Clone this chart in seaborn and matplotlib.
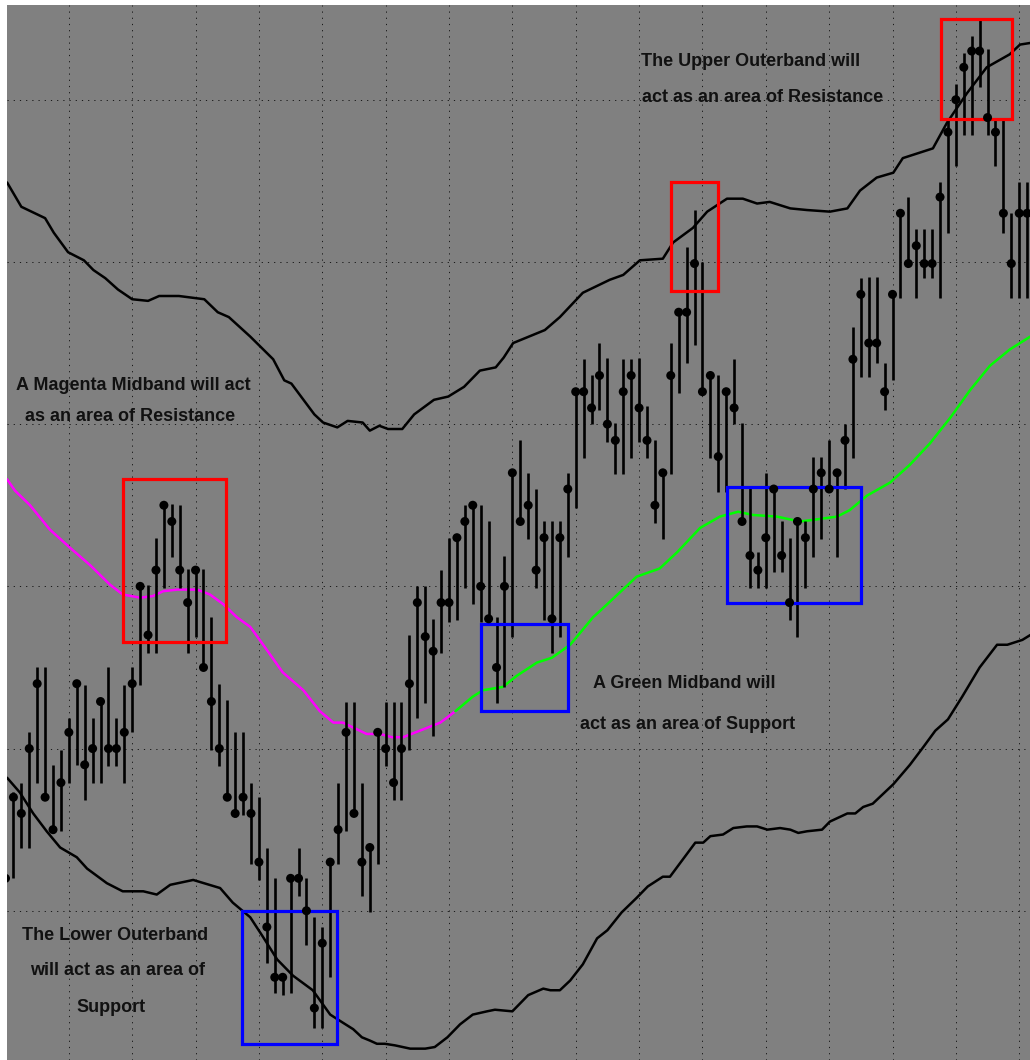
import numpy as np
import matplotlib
matplotlib.use('Agg')
import matplotlib.pyplot as plt
from matplotlib.patches import Rectangle
import seaborn as sns

# ── Price bars (one per session) ─────────────────────────────────────────
closes = [12.0, 17.0, 16.0, 20.0, 24.0, 17.0, 15.0, 17.9, 21.0, 24.0,
          19.0, 20.0, 22.9, 20.0, 20.0, 21.0, 24.0, 30.0, 27.0, 31.0,
          35.0, 34.0, 31.0, 29.0, 31.0, 25.0, 22.9, 20.0, 17.0, 16.0,
          17.0, 16.0, 13.0, 9.0, 5.9, 5.9, 12.0, 12.0, 10.0, 4.0,
          8.0, 13.0, 15.0, 21.0, 16.0, 13.0, 13.9, 21.0, 20.0, 17.9,
          20.0, 24.0, 29.0, 26.9, 26.0, 29.0, 29.0, 33.0, 34.0, 35.0,
          30.0, 28.0, 25.0, 30.0, 37.0, 34.0, 35.0, 31.0, 33.0, 28.0,
          33.0, 36.0, 42.0, 42.0, 41.0, 43.0, 40.0, 39.0, 42.0, 43.0,
          41.0, 39.0, 35.0, 37.0, 43.0, 46.9, 46.9, 49.9, 42.0, 43.0,
          38.0, 42.0, 41.0, 34.0, 31.9, 31.0, 33.0, 36.0, 31.9, 29.0,
          34.0, 33.0, 36.0, 37.0, 36.0, 37.0, 39.0, 44.0, 48.0, 45.0,
          45.0, 42.0, 48.0, 53.0, 49.9, 51.0, 49.9, 49.9, 54.0, 58.0,
          60.0, 62.0, 63.0, 63.0, 58.9, 58.0, 53.0, 49.9, 53.0, 53.0]

highs = [13.3, 17.3, 17.9, 21.0, 25.0, 25.0, 19.0, 19.9, 21.9, 24.2,
         23.9, 21.9, 23.1, 25.0, 21.9, 23.9, 25.0, 30.2, 30.1, 33.0,
         35.2, 35.1, 35.0, 31.1, 31.1, 31.1, 28.1, 24.0, 23.0, 21.0,
         21.0, 17.9, 17.0, 13.9, 12.0, 6.0, 12.0, 13.9, 12.0, 9.6,
         9.0, 13.0, 17.9, 22.9, 22.9, 17.9, 13.9, 21.1, 22.9, 22.9,
         22.9, 27.0, 30.0, 30.0, 28.0, 31.0, 33.0, 33.0, 35.0, 35.0,
         35.0, 34.0, 28.1, 31.9, 37.0, 39.0, 37.0, 36.0, 34.0, 34.0,
         34.0, 37.0, 42.0, 44.0, 43.0, 45.0, 44.1, 40.1, 44.0, 44.0,
         44.1, 41.1, 39.0, 37.0, 45.0, 46.9, 50.9, 53.2, 50.0, 43.0,
         43.0, 42.0, 44.0, 40.1, 36.1, 32.1, 37.0, 36.0, 34.0, 33.0,
         34.2, 34.0, 38.0, 38.0, 39.0, 37.0, 40.0, 46.0, 49.0, 49.1,
         49.1, 43.8, 48.0, 53.0, 54.0, 52.0, 52.0, 52.0, 54.9, 58.9,
         61.0, 62.9, 63.9, 65.0, 63.1, 58.9, 58.9, 53.0, 54.9, 54.9]

lows = [11.6, 12.0, 13.9, 13.9, 17.9, 16.8, 14.8, 14.9, 17.9, 19.0,
        16.8, 17.9, 17.9, 18.9, 18.9, 17.9, 21.0, 23.9, 25.9, 25.9,
        29.9, 31.8, 29.9, 25.9, 26.9, 25.0, 19.9, 18.9, 17.0, 15.8,
        15.9, 12.9, 11.9, 6.8, 4.9, 4.8, 4.9, 10.9, 7.9, 2.8,
        2.8, 5.9, 12.9, 14.9, 16.0, 10.9, 9.9, 12.9, 18.9, 16.8,
        16.8, 19.9, 21.9, 22.8, 20.8, 25.9, 27.8, 27.9, 29.9, 28.9,
        27.8, 27.8, 22.8, 23.8, 26.9, 34.0, 32.9, 29.9, 27.9, 25.9,
        26.9, 31.8, 34.8, 37.9, 40.0, 40.9, 38.9, 36.9, 36.9, 37.9,
        38.9, 37.9, 33.9, 32.9, 36.9, 41.9, 43.8, 44.9, 42.0, 37.9,
        35.8, 35.8, 40.0, 34.0, 29.9, 29.9, 29.9, 30.9, 30.9, 27.9,
        26.9, 29.9, 31.8, 32.9, 36.0, 31.8, 36.0, 37.9, 42.9, 42.9,
        43.8, 40.9, 42.7, 47.8, 49.9, 47.8, 49.0, 49.0, 47.8, 51.8,
        55.9, 57.8, 57.8, 60.8, 57.8, 55.9, 51.8, 47.8, 47.8, 47.8]

# ── Bands, traced as (bar position, level) ───────────────────────────────
upper_x = [0.2, 2.0, 5.0, 6.1, 7.9, 9.9, 11.1, 12.6, 14.2, 16.0, 18.0, 19.4,
           21.9, 25.1, 26.8, 28.2, 30.9, 33.8, 35.2, 36.1, 39.0, 40.1, 41.9,
           43.2, 45.1, 46.0, 47.2, 48.3, 50.1, 51.6, 54.1, 55.9, 57.9, 59.9,
           61.9, 62.9, 64.1, 65.6, 68.1, 70.0, 72.9, 76.3, 78.0, 80.1, 83.0,
           84.3, 86.8, 88.6, 91.1, 93.1, 94.9, 96.5, 99.1, 101.2, 104.1,
           106.3, 107.9, 110.0, 112.1, 113.3, 117.1, 118.9, 121.4, 123.9,
           126.8, 128.1, 129.4]
upper_y = [54.9, 53.4, 52.7, 51.8, 50.6, 50.1, 49.5, 49.0, 48.3, 47.7, 47.6,
           47.9, 47.9, 47.7, 46.9, 46.6, 45.4, 44.0, 42.7, 42.5, 40.6, 40.1,
           39.8, 40.2, 40.1, 39.6, 39.9, 39.7, 39.7, 40.6, 41.5, 41.7, 42.3,
           43.3, 43.5, 44.1, 45.0, 45.3, 45.8, 46.6, 48.1, 48.9, 49.2, 50.1,
           50.2, 51.2, 52.1, 53.1, 53.9, 53.9, 53.6, 53.7, 53.3, 53.2, 53.1,
           53.3, 54.4, 55.2, 55.5, 56.4, 57.0, 58.6, 60.4, 62.0, 62.8, 63.4,
           63.5]

lower_x = [0.2, 1.8, 3.5, 5.2, 6.9, 9.0, 10.3, 12.8, 14.8, 17.4, 19.1, 20.8,
           23.7, 27.1, 28.7, 30.9, 32.5, 34.3, 36.3, 38.8, 41.0, 42.6, 43.9,
           45.0, 46.0, 46.9, 47.9, 49.2, 51.1, 53.0, 54.2, 55.8, 57.4, 59.0,
           60.8, 61.8, 64.0, 66.0, 67.9, 68.8, 70.0, 71.3, 72.9, 74.7, 76.0,
           77.8, 79.7, 81.1, 83.0, 83.9, 87.1, 88.1, 89.0, 90.6, 91.9, 93.6,
           94.9, 96.2, 97.8, 99.1, 100.1, 101.2, 103.1, 104.1, 106.3, 107.3,
           108.3, 109.5, 112.1, 114.2, 115.9, 117.4, 119.0, 120.8, 123.0,
           125.2, 126.5, 128.4, 129.4]
lower_y = [18.2, 17.3, 16.0, 14.9, 13.9, 13.3, 12.6, 11.7, 11.2, 11.2, 11.0,
           11.6, 11.9, 11.4, 10.5, 9.6, 8.4, 7.0, 6.0, 5.1, 3.6, 3.1, 2.7,
           2.2, 2.0, 1.8, 1.8, 1.7, 1.5, 1.5, 1.6, 2.2, 3.0, 3.6, 3.8, 3.9,
           3.8, 4.8, 5.2, 5.1, 5.1, 5.7, 6.7, 8.3, 8.8, 9.9, 10.8, 11.5, 12.1,
           12.1, 14.2, 14.2, 14.6, 14.7, 15.1, 15.2, 15.2, 15.0, 15.1, 15.0,
           14.8, 14.9, 15.0, 15.5, 16.0, 16.0, 16.4, 16.6, 17.8, 19.0, 20.1,
           21.1, 21.8, 23.2, 25.0, 26.4, 26.4, 26.7, 27.0]

# midband: magenta while falling, green once it turns up
mid_red_x = [0.2, 1.2, 3.1, 5.6, 8.1, 10.7, 13.2, 14.8, 17.0, 18.6, 19.9,
             21.7, 24.2, 25.8, 27.5, 29.2, 30.9, 32.1, 35.0, 37.6, 39.7,
             41.4, 42.6, 45.6, 47.3, 48.8, 50.2, 52.3, 54.9, 56.8]
mid_red_y = [36.6, 35.9, 35.0, 33.5, 32.4, 31.3, 30.1, 29.5, 29.3, 29.4, 29.7,
             29.8, 29.8, 29.5, 28.9, 28.1, 27.5, 26.7, 24.7, 23.6, 22.3, 21.6,
             21.6, 20.9, 20.9, 20.7, 20.7, 21.1, 21.6, 22.3]
mid_grn_x = [56.8, 59.0, 60.3, 62.8, 64.6, 67.1, 69.0, 71.3, 74.2, 75.1, 79.7,
             82.6, 84.8, 87.7, 90.2, 92.5, 94.4, 97.4, 100.3, 102.0, 105.0,
             106.6, 108.8, 111.7, 114.2, 116.7, 119.3, 121.8, 124.3, 126.8,
             129.4]
mid_grn_y = [22.3, 23.2, 23.6, 23.8, 24.5, 25.3, 25.6, 26.4, 28.1, 28.5, 30.6,
             31.1, 32.1, 33.6, 34.3, 34.6, 34.4, 34.3, 34.0, 34.1, 34.3, 34.7,
             35.6, 36.4, 37.5, 38.8, 40.4, 42.1, 43.6, 44.6, 45.4]

# highlighted zones: (first bar, last bar, bottom, top, colour)
zones = [(14.8, 27.8, 26.6, 36.6, '#FF0000'),
         (29.9, 41.9, 1.8, 10.0, '#0000FF'),
         (60.0, 71.0, 22.3, 27.7, '#0000FF'),
         (84.0, 90.0, 48.2, 54.9, '#FF0000'),
         (91.1, 108.0, 29.0, 36.1, '#0000FF'),
         (118.1, 127.1, 58.8, 65.0, '#FF0000')]

# annotation lines: (text, x centre px, baseline px)
notes = [('The Upper Outerband will', 751, 66),
         ('act as an area of Resistance', 763, 102),
         ('A Magenta Midband will act', 133, 390),
         ('as an area of Resistance', 130, 421),
         ('A Green Midband will', 684, 688),
         ('act as an area of Support', 688, 729),
         ('The Lower Outerband', 115, 940),
         ('will act as an area of', 118, 975),
         ('Support', 111, 1012)]

# ── Style ────────────────────────────────────────────────────────────────
sns.set_theme(style='ticks', rc={'axes.facecolor': '#808080',
                                 'figure.facecolor': 'white'})
plt.rcParams['font.family'] = ['Liberation Sans', 'DejaVu Sans']

W, H = 1030, 1060
fig = plt.figure(figsize=(W / 100, H / 100), dpi=100)
ax = fig.add_axes([7 / W, 0, (W - 7) / W, (H - 5) / H])
ax.set_facecolor('#808080')

bar_idx = np.arange(len(closes))

# dotted grid every 8 bars / 10 points
ax.set_xticks(np.arange(8, 129, 8))
ax.set_yticks(np.arange(10, 61, 10))
ax.grid(True, color='#1a1a1a', linewidth=0.72, linestyle=(0, (1.2, 5.0)))
ax.tick_params(length=0, labelbottom=False, labelleft=False)
for s in ax.spines.values():
    s.set_visible(False)

# bands
sns.lineplot(x=upper_x, y=upper_y, color='black', linewidth=1.8, sort=False,
             estimator=None, ax=ax, zorder=3)
sns.lineplot(x=lower_x, y=lower_y, color='black', linewidth=1.8, sort=False,
             estimator=None, ax=ax, zorder=3)
sns.lineplot(x=mid_red_x, y=mid_red_y, color='#FF00FF', linewidth=1.8, sort=False,
             estimator=None, ax=ax, zorder=3)
sns.lineplot(x=mid_grn_x, y=mid_grn_y, color='#00FF00', linewidth=1.8, sort=False,
             estimator=None, ax=ax, zorder=3)

# price bars: high-low line + close dot
ax.vlines(bar_idx, lows, highs, color='black', linewidth=1.9, zorder=4)
sns.scatterplot(x=bar_idx, y=closes, color='black', s=42, edgecolor='none',
                marker='o', ax=ax, zorder=6, legend=False)

for x0, x1, y0, y1, col in zones:
    ax.add_patch(Rectangle((x0, y0), x1 - x0, y1 - y0, fill=False,
                           edgecolor=col, linewidth=2.3, zorder=5))

ax.set_xlim(0.19, 129.36)
ax.set_ylim(0.80, 65.84)
ax.set_xlabel('')
ax.set_ylabel('')

for txt, px, py in notes:
    fig.text(px / W, 1 - py / H, txt, ha='center', va='baseline',
             fontsize=13.0, fontweight='bold', color='#111111')

fig.savefig('out.png', dpi=100)
